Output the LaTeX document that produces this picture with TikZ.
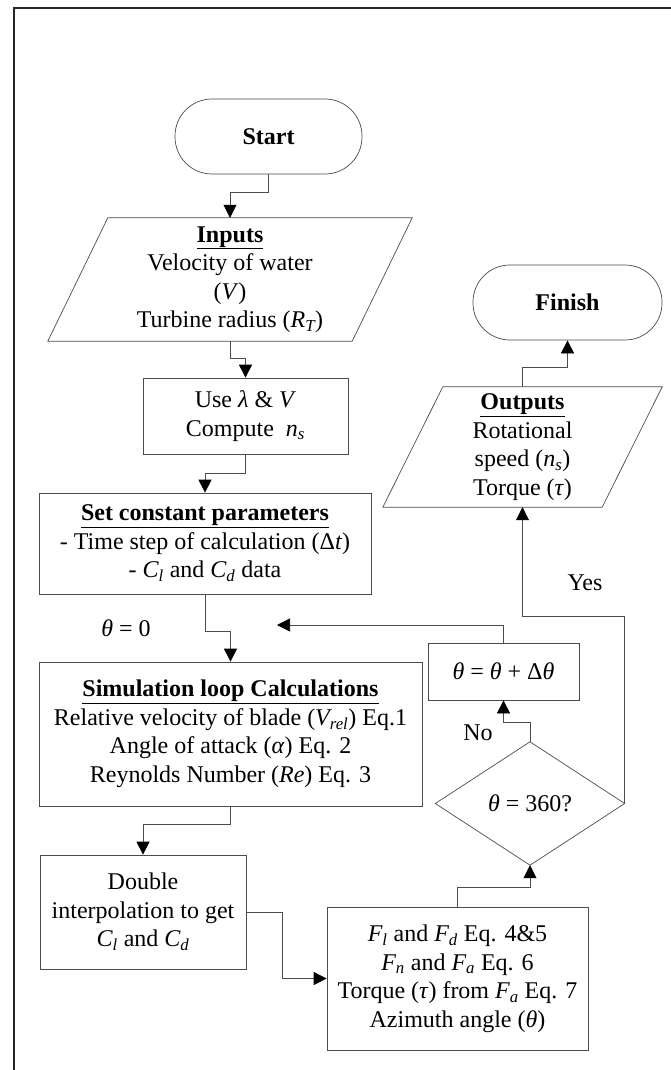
\documentclass[tikz,border=0pt]{standalone}
\usepackage{fontspec}
\setmainfont{Liberation Serif}
\usetikzlibrary{arrows.meta,calc}
\newcommand\figfont{\fontsize{24}{28.5}\selectfont}
\begin{document}
\begin{tikzpicture}[x=1pt,y=-1pt,
  ln/.style={draw=black!70,line width=0.7pt},
  arr/.style={ln,-{Triangle[width=13pt,length=13pt,color=black]}},
  box/.style={draw=black!70,line width=0.7pt,rectangle,inner sep=0pt,align=center,font=\figfont},
  plain/.style={rectangle,inner sep=0pt,align=center,font=\figfont},
  term/.style={box,rounded corners=37pt},
  lbl/.style={inner sep=0pt,font=\figfont}]
\useasboundingbox (0,0) rectangle (670,1070);
\fill[white] (0,0) rectangle (670,1070);
% outer frame (partly visible)
\draw[line width=2pt,black!85] (14,1080) -- (14,8) -- (680,8);

% nodes
\node[term,minimum width=187pt,minimum height=75pt] (start) at (268.5,136.5) {\textbf{Start}};
\node[plain,minimum width=304pt,minimum height=123pt] (inputs) at (230,279.5)
  {\underline{\textbf{Inputs}}\\Velocity of water\\(\textit{V})\\Turbine radius (\textit{R\textsubscript{T}})};
\draw[ln] ($(inputs.south west)+(-30,0)$) -- ($(inputs.south east)+(-30,0)$) -- ($(inputs.north east)+(30,0)$) -- ($(inputs.north west)+(30,0)$) -- cycle;
\node[box,minimum width=205pt,minimum height=76pt] (compute) at (245.5,416)
  {Use \textit{λ} \& \textit{V}\\Compute\ \ \textit{n\textsubscript{s}}};
\node[box,minimum width=332pt,minimum height=101pt] (set) at (205,543.5)
  {\underline{\textbf{Set constant parameters}}\\- Time step of calculation (Δ\textit{t})\\- \textit{C\textsubscript{l}} and \textit{C\textsubscript{d}} data};
\node[box,minimum width=383pt,minimum height=144pt] (sim) at (230.5,734)
  {\underline{\textbf{Simulation loop Calculations}}\\Relative velocity of blade (\textit{V\textsubscript{rel}}) Eq.1\\Angle of attack (\textit{α}) Eq. 2\\Reynolds Number (\textit{Re}) Eq. 3};
\node[box,minimum width=206pt,minimum height=114pt] (double) at (143,912)
  {Double\\interpolation to get\\\textit{C\textsubscript{l}} and \textit{C\textsubscript{d}}};
\node[box,minimum width=261pt,minimum height=143pt] (force) at (457.5,978.5)
  {\textit{F\textsubscript{l}} and \textit{F\textsubscript{d}} Eq. 4\&5\\\textit{F\textsubscript{n}} and \textit{F\textsubscript{a}} Eq. 6\\Torque (\textit{τ}) from \textit{F\textsubscript{a}} Eq. 7\\Azimuth angle (\textit{θ})};
\node[plain,minimum width=189pt,minimum height=123pt] (dec) at (530,803.5) {\textit{θ} = 360?};
\draw[ln] (dec.north) -- (dec.east) -- (dec.south) -- (dec.west) -- cycle;
\node[box,minimum width=151pt,minimum height=57pt] (theta) at (503.5,671.5) {\textit{θ} = \textit{θ} + Δ\textit{θ}};
\node[plain,minimum width=219pt,minimum height=120pt] (outputs) at (522.5,447)
  {\underline{\textbf{Outputs}}\\Rotational\\speed (\textit{n\textsubscript{s}})\\Torque (\textit{τ})};
\draw[ln] ($(outputs.south west)+(-30,0)$) -- ($(outputs.south east)+(-30,0)$) -- ($(outputs.north east)+(30,0)$) -- ($(outputs.north west)+(30,0)$) -- cycle;
\node[term,minimum width=189pt,minimum height=75pt] (finish) at (567.5,302.5) {\textbf{Finish}};

\coordinate (loopend) at (277,625);

% connectors
\draw[arr] (start.south) -- ++(0,18) -| (inputs.north);
\draw[arr] (inputs.south) -- ++(0,17) -| (compute.north);
\draw[arr] (compute.south) -- ++(0,19) -| (set.north);
\draw[arr] (set.south) -- ++(0,37) -| (sim.north);
\draw[arr] (sim.south) -- ++(0,18) -| (double.north);
\draw[arr] (double.east) -- ++(36,0) |- (force.west);
\draw[arr] (force.north) -- ++(0,-19) -| (dec.south);
\draw[arr] (dec.north) -- ++(0,-19) -| (theta.south);
\draw[arr] (theta.north) |- (loopend);
\draw[arr] (dec.east) -- ++(0,-187) -| (outputs.south);
\draw[arr] (outputs.north) -- ++(0,-19) -| (finish.south);

% labels
\node[lbl] (l0) at (126,628) {\textit{θ} = 0};
\node[lbl] (lno) at (478,733) {No};
\node[lbl] (lyes) at (585,583) {Yes};
\end{tikzpicture}
\end{document}
